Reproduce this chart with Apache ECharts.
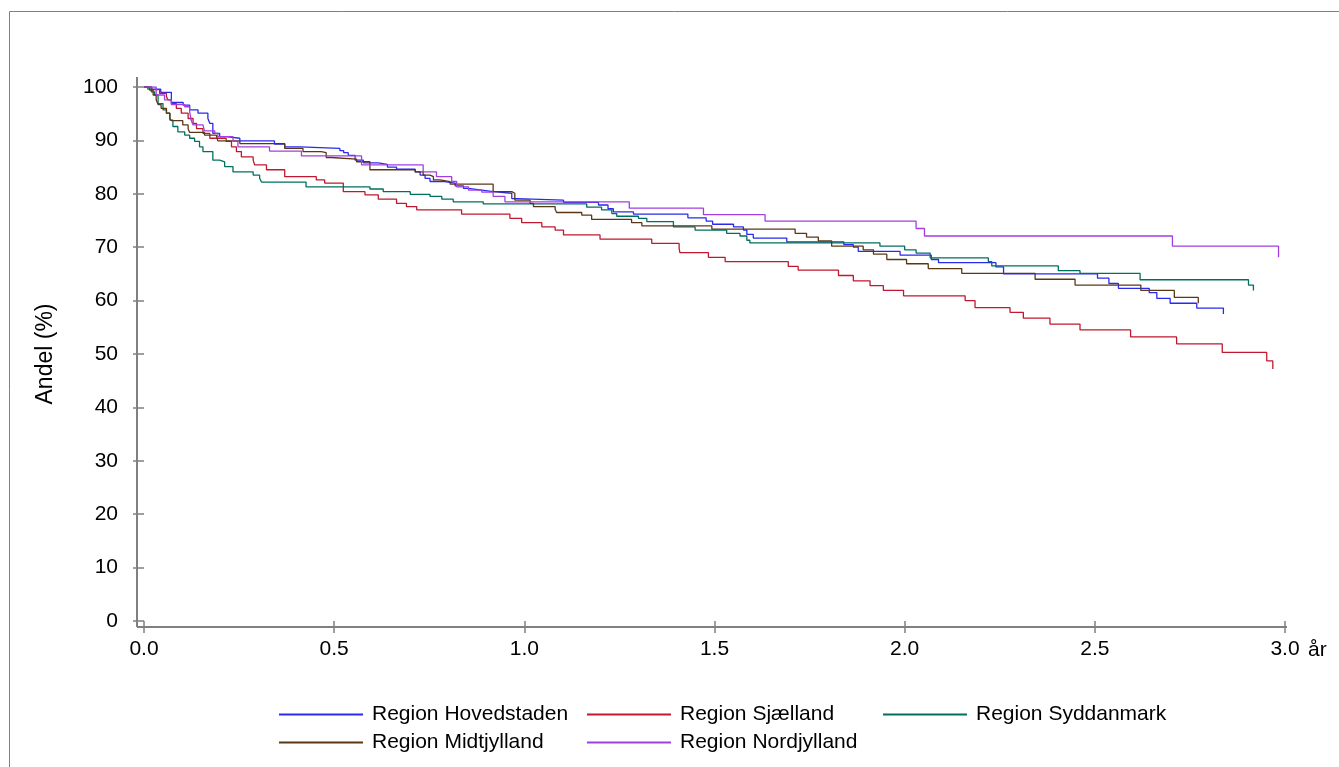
<!DOCTYPE html>
<html>
<head>
<meta charset="utf-8">
<script src="https://cdn.jsdelivr.net/npm/echarts@6/dist/echarts.min.js"></script>
<style>
  html, body { margin: 0; padding: 0; background: #fff; }
  #main { width: 1339px; height: 767px; }
</style>
</head>
<body>
<div id="main"></div>
<script>
// tid (år) og andel (%) ved hvert trin
var hovedstaden = [[0,100],[0.02,99.6],[0.044,99.0],[0.072,97.1],[0.103,96.6],[0.12,95.7],[0.142,95.1],[0.168,94.1],[0.173,93.2],[0.181,91.3],[0.199,90.7],[0.216,90.4],[0.252,89.9],[0.343,89.3],[0.37,88.8],[0.41,88.5],[0.515,88.1],[0.525,87.7],[0.537,87.2],[0.555,86.3],[0.577,85.8],[0.616,85.5],[0.64,85.0],[0.664,84.6],[0.713,84.1],[0.726,83.5],[0.739,82.9],[0.752,82.3],[0.79,82.0],[0.818,81.5],[0.84,81.0],[0.853,80.7],[0.888,80.4],[0.918,80.1],[0.967,79.1],[0.98,78.8],[1.103,78.4],[1.195,77.9],[1.22,77.2],[1.234,76.6],[1.287,76.2],[1.43,75.5],[1.478,74.9],[1.495,74.3],[1.55,73.8],[1.576,73.2],[1.585,72.4],[1.602,71.7],[1.69,71.0],[1.84,70.5],[1.865,70.0],[1.878,69.2],[1.988,68.5],[2.07,67.7],[2.089,67.1],[2.24,66.3],[2.26,65.0],[2.507,64.2],[2.537,63.2],[2.562,62.3],[2.643,61.5],[2.663,60.4],[2.698,59.5],[2.768,58.6],[2.838,57.5]];
var sjaelland = [[0,100],[0.02,99.5],[0.041,98.8],[0.059,98.2],[0.063,97.6],[0.072,96.9],[0.085,96.0],[0.098,95.1],[0.116,94.1],[0.129,93.2],[0.138,92.2],[0.155,91.3],[0.173,90.4],[0.216,89.8],[0.23,88.8],[0.243,87.9],[0.256,86.9],[0.287,86.3],[0.291,85.4],[0.322,84.5],[0.37,83.2],[0.453,82.6],[0.475,82.0],[0.524,80.4],[0.581,79.8],[0.616,79.0],[0.664,78.2],[0.69,77.6],[0.717,77.0],[0.835,76.2],[0.962,75.4],[0.993,74.6],[1.046,73.8],[1.081,73.2],[1.103,72.3],[1.199,71.5],[1.335,70.7],[1.407,69.8],[1.409,69.0],[1.484,68.1],[1.528,67.3],[1.694,66.4],[1.72,65.7],[1.826,64.7],[1.865,63.7],[1.909,62.8],[1.944,61.9],[1.997,60.9],[2.159,60.0],[2.185,58.7],[2.277,57.8],[2.312,56.7],[2.382,55.6],[2.461,54.5],[2.594,53.2],[2.715,51.9],[2.835,50.3],[2.952,48.7],[2.968,47.2]];
var syddanmark = [[0,100],[0.01,99.6],[0.019,99.1],[0.028,98.5],[0.037,96.9],[0.05,95.7],[0.059,95.1],[0.068,93.8],[0.076,92.6],[0.089,91.6],[0.107,91.0],[0.12,90.4],[0.133,89.8],[0.146,88.8],[0.155,87.9],[0.181,86.3],[0.199,86.0],[0.212,85.1],[0.234,84.1],[0.287,83.5],[0.304,82.9],[0.309,82.2],[0.426,81.3],[0.594,80.9],[0.629,80.4],[0.7,79.9],[0.752,79.5],[0.783,79.0],[0.813,78.5],[0.892,78.1],[1.164,77.5],[1.203,77.0],[1.23,76.3],[1.243,75.8],[1.3,75.4],[1.322,74.8],[1.392,73.8],[1.449,73.2],[1.532,72.6],[1.567,72.1],[1.585,71.3],[1.593,70.8],[1.935,70.2],[2.0,69.5],[2.03,68.9],[2.067,68.0],[2.22,67.3],[2.229,66.5],[2.404,65.6],[2.461,65.1],[2.619,63.9],[2.904,62.9],[2.917,61.9]];
var midtjylland = [[0,100],[0.015,99.4],[0.024,98.5],[0.032,97.6],[0.037,96.7],[0.045,96.0],[0.059,95.1],[0.068,94.1],[0.072,93.7],[0.102,92.9],[0.116,92.2],[0.12,91.5],[0.159,91.0],[0.19,90.8],[0.194,89.9],[0.252,89.4],[0.37,88.5],[0.418,87.9],[0.466,87.7],[0.479,86.8],[0.492,86.5],[0.559,86.0],[0.594,84.5],[0.713,84.1],[0.734,83.5],[0.752,83.2],[0.761,82.6],[0.778,82.3],[0.805,81.8],[0.918,80.4],[0.967,80.1],[0.975,78.8],[1.015,78.2],[1.024,77.6],[1.081,77.1],[1.085,76.5],[1.151,76.0],[1.177,75.2],[1.282,74.6],[1.309,74.0],[1.493,73.4],[1.712,72.6],[1.742,71.9],[1.773,71.2],[1.808,70.2],[1.891,69.5],[1.918,68.7],[1.953,67.7],[2.005,66.9],[2.062,66.0],[2.15,65.1],[2.343,64.0],[2.448,62.9],[2.621,61.9],[2.709,60.6],[2.772,59.5]];
var nordjylland = [[0,100],[0.032,98.5],[0.054,97.6],[0.072,96.7],[0.107,96.3],[0.12,95.4],[0.124,93.8],[0.129,92.9],[0.155,92.6],[0.159,91.8],[0.186,91.3],[0.194,90.7],[0.234,89.8],[0.247,88.8],[0.33,88.0],[0.414,87.1],[0.572,85.4],[0.734,84.1],[0.769,83.2],[0.809,82.3],[0.822,81.3],[0.853,80.7],[0.888,80.3],[0.918,79.5],[0.949,78.5],[1.276,77.3],[1.471,76.1],[1.633,74.9],[2.03,73.5],[2.052,72.1],[2.704,70.2],[2.983,68.1]];

var regionNames = ['Region Hovedstaden','Region Sjælland','Region Syddanmark','Region Midtjylland','Region Nordjylland'];
var regionData = [hovedstaden, sjaelland, syddanmark, midtjylland, nordjylland];
var regionColors = ['#2a2aee','#c0182e','#006f5c','#5a3816','#a33ee2'];

var FONT = 'Liberation Sans, Arial, sans-serif';
var GL = 144, GT = 87, GR = 54, GB = 146;   // grid
var W = 1339, H = 767;
var AXC = '#808080';

var myChart = echarts.init(document.getElementById('main'));

var series = regionNames.map(function (n, i) {
  return {
    name: n,
    type: 'line',
    step: 'end',
    symbol: 'none',
    showSymbol: false,
    data: regionData[i],
    color: regionColors[i],
    lineStyle: { width: 1.3, color: regionColors[i] },
    emphasis: { disabled: true }
  };
});

function legendCol(names, left) {
  return {
    data: names,
    orient: 'vertical',
    left: left,
    top: 699,
    itemWidth: 84,
    itemHeight: 14,
    itemGap: 7,
    selectedMode: false,
    itemStyle: { opacity: 0 },
    textStyle: { fontFamily: FONT, fontSize: 21, color: '#000', padding: [0, 0, 0, 4] }
  };
}

myChart.setOption({
  animation: false,
  color: regionColors,
  grid: { left: GL, top: GT, right: GR, bottom: GB },
  legend: [
    legendCol(['Region Hovedstaden', 'Region Midtjylland'], 273),
    legendCol(['Region Sjælland', 'Region Nordjylland'], 581),
    legendCol(['Region Syddanmark'], 877)
  ],
  xAxis: {
    type: 'value',
    min: 0, max: 3, interval: 0.5,
    offset: 6,
    name: 'år',
    nameLocation: 'end',
    nameGap: 23,
    nameTextStyle: { fontFamily: FONT, fontSize: 21, color: '#000', verticalAlign: 'top', padding: [19, 0, 0, 0] },
    axisLine: { show: false },
    axisTick: { show: true, length: 12, lineStyle: { color: AXC, width: 1.5 } },
    axisLabel: { margin: 12, fontFamily: FONT, fontSize: 21, color: '#000',
      formatter: function (v) { return v.toFixed(1); } },
    splitLine: { show: false }
  },
  yAxis: {
    type: 'value',
    min: 0, max: 100, interval: 10,
    offset: 7,
    name: 'Andel (%)',
    nameLocation: 'middle',
    nameGap: 80,
    nameTextStyle: { fontFamily: FONT, fontSize: 23, color: '#000' },
    axisLine: { show: false },
    axisTick: { show: true, length: 11, lineStyle: { color: AXC, width: 1.5 } },
    axisLabel: { margin: 19, fontFamily: FONT, fontSize: 21, color: '#000' },
    splitLine: { show: false }
  },
  graphic: [
    { type: 'rect', silent: true, shape: { x: 9.5, y: 11.5, width: W, height: H },
      style: { fill: 'none', stroke: AXC, lineWidth: 1 } },
    { type: 'line', silent: true, shape: { x1: GL - 7, y1: GT - 10, x2: GL - 7, y2: H - GB + 6 },
      style: { stroke: AXC, lineWidth: 2 } },
    { type: 'line', silent: true, shape: { x1: GL - 7, y1: H - GB + 6, x2: W - GR + 2, y2: H - GB + 6 },
      style: { stroke: AXC, lineWidth: 2 } }
  ],
  series: series
});
</script>
</body>
</html>
